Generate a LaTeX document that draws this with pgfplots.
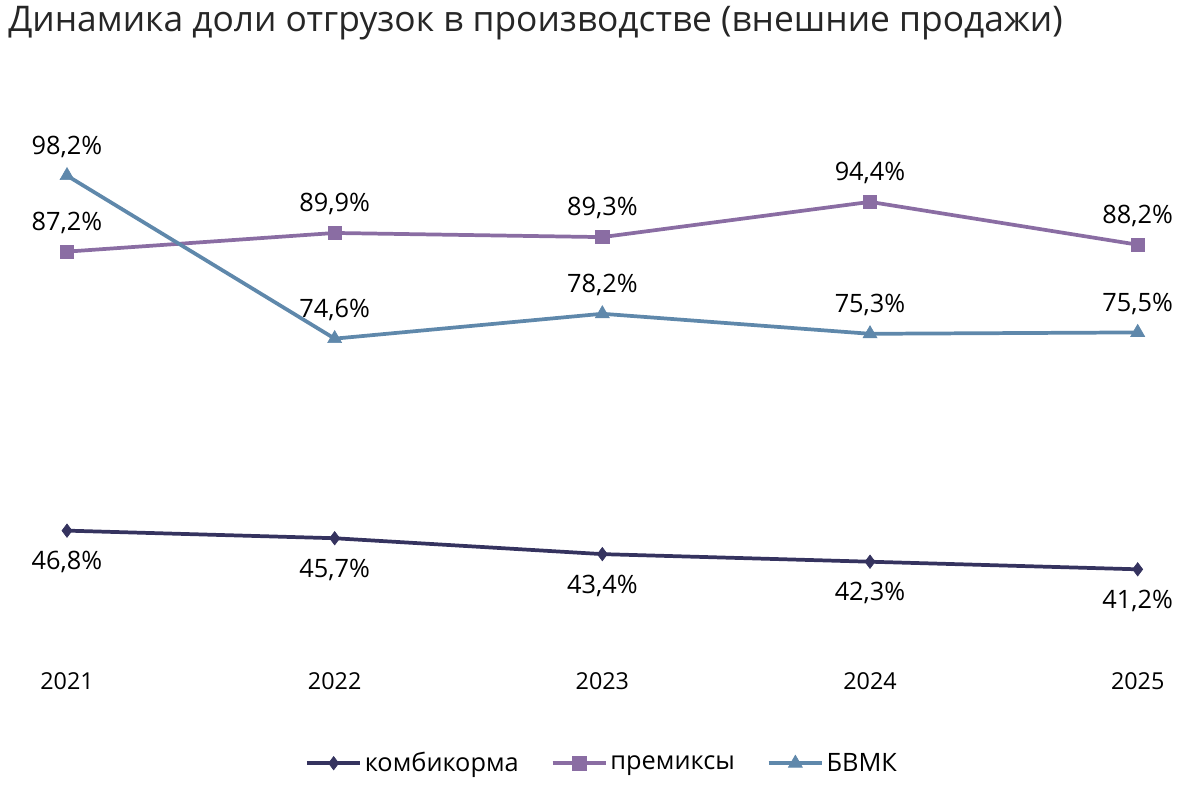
\documentclass[border=0pt]{standalone}
\usepackage{fontspec}
\setmainfont{Open Sans}
\usepackage{pgfplots}
\pgfplotsset{compat=1.18}
\definecolor{c1}{HTML}{35335F}
\definecolor{c2}{HTML}{8A6DA3}
\definecolor{c3}{HTML}{5F88AB}
\begin{document}
\begin{tikzpicture}
\useasboundingbox (0,0) rectangle (900.75pt,589.5pt);
\node[anchor=north west,inner sep=0pt,text=black!85,font=\fontsize{26.5}{30}\selectfont] at (6pt,585pt) {Динамика доли отгрузок в производстве (внешние продажи)};
\begin{axis}[at={(50.25pt,104.5pt)},anchor=origin,
  scale only axis,width=803pt,height=388.5pt,
  xmin=2021,xmax=2025,ymin=30,ymax=105,
  axis lines=none,clip=false,
  /pgf/number format/assume math mode=true,
  xtick={2021,...,2025},
  legend style={at={(0.5,-0.225)},anchor=center,draw=none,legend columns=-1,
    font=\fontsize{19}{22}\selectfont,/tikz/every even column/.append style={column sep=22pt}},
  legend image code/.code={\draw[#1] (0pt,0pt) -- (20pt,0pt) -- (40pt,0pt); \draw[#1,only marks] plot coordinates {(20pt,0pt)};},
  every node near coord/.append style={font=\fontsize{19}{22}\selectfont,text=black},
  nodes near coords={\pgfmathprintnumber[fixed,fixed zerofill,precision=1,use comma]{\pgfplotspointmeta}\%},
]
\addplot[color=c1,line width=2.8pt,mark=diamond*,mark size=5pt,mark options={line width=0.5pt},
  every node near coord/.append style={anchor=north,yshift=-12pt}]
  coordinates {(2021,46.8)(2022,45.7)(2023,43.4)(2024,42.3)(2025,41.2)};
\addlegendentry{комбикорма}
\addplot[color=c2,line width=2.8pt,mark=square*,mark size=5pt,mark options={line width=0.5pt},
  every node near coord/.append style={anchor=south,yshift=10pt}]
  coordinates {(2021,87.2)(2022,89.9)(2023,89.3)(2024,94.4)(2025,88.2)};
\addlegendentry{премиксы}
\addplot[color=c3,line width=2.8pt,mark=triangle*,mark size=6pt,mark options={line width=0.5pt},
  every node near coord/.append style={anchor=south,yshift=10pt}]
  coordinates {(2021,98.2)(2022,74.6)(2023,78.2)(2024,75.3)(2025,75.5)};
\addlegendentry{БВМК}
\end{axis}
\foreach \i/\y in {0/2021,1/2022,2/2023,3/2024,4/2025}
  \node[font=\fontsize{17.5}{20}\selectfont] at ({50.25pt+\i*200.75pt},79pt) {\y};
\end{tikzpicture}
\end{document}
